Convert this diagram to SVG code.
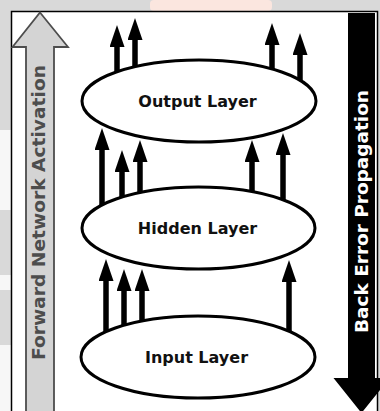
<svg xmlns="http://www.w3.org/2000/svg" width="380" height="411" viewBox="0 0 380 411">
  <defs>
    <style>
      .layer { fill: #ffffff; stroke: #000000; stroke-width: 3; }
      .label { font-family: "DejaVu Sans", Verdana, sans-serif; font-weight: bold; font-size: 16px; fill: #111111; text-anchor: middle; }
      .side { font-family: "DejaVu Sans", Verdana, sans-serif; font-weight: bold; font-size: 18.5px; text-anchor: middle; }
      .conn { stroke: #000000; stroke-width: 5.5; fill: none; marker-end: url(#head); }
      .wm { fill: #f7f7f7; }
    </style>
    <marker id="head" viewBox="0 0 22 15" refX="0" refY="7.5" markerWidth="22" markerHeight="15" markerUnits="userSpaceOnUse" orient="auto">
      <path d="M0,0 L22,7.5 L0,15 Z" fill="#000000"/>
    </marker>
  </defs>

  <!-- background outside frame -->
  <rect x="0" y="0" width="380" height="411" fill="#d9d9d9"/>
  <rect class="wm" x="0" y="130" width="12" height="80"/>
  <rect class="wm" x="0" y="275" width="12" height="15"/>
  <rect class="wm" x="0" y="345" width="12" height="66"/>
  <rect x="150" y="0" width="122" height="11" rx="4" fill="#fbe6df"/>
  <!-- frame -->
  <rect x="11.5" y="11.5" width="366" height="410" fill="#ffffff" stroke="#000000" stroke-width="1.5"/>

  <!-- Forward activation arrow -->
  <g id="forward-arrow">
    <polygon points="40,12.5 68,47 54,47 54,415 26,415 26,47 12.5,47" fill="#d4d4d4" stroke="#4d4d4d" stroke-width="1.8"/>
    <text class="side" fill="#4d4d4d" transform="translate(45,212.5) rotate(-90)" textLength="295" lengthAdjust="spacingAndGlyphs">Forward Network Activation</text>
  </g>

  <!-- Back error propagation arrow -->
  <g id="back-arrow">
    <polygon points="348,13 375,13 375,378 389.5,378 361.5,413 333.5,378 348,378" fill="#000000"/>
    <text class="side" fill="#ffffff" transform="translate(367.5,211.5) rotate(-90)" textLength="243" lengthAdjust="spacingAndGlyphs">Back Error Propagation</text>
  </g>

  <!-- connectors -->
  <g id="connectors">
    <!-- output layer outputs -->
    <path class="conn" d="M117,100 L117,47"/>
    <path class="conn" d="M135,100 L135,40"/>
    <path class="conn" d="M272,100 L272,45"/>
    <path class="conn" d="M300,100 L300,55"/>
    <!-- hidden to output -->
    <path class="conn" d="M102,228 L102,150"/>
    <path class="conn" d="M122,228 L122,172"/>
    <path class="conn" d="M140,228 L140,162"/>
    <path class="conn" d="M252,228 L252,162"/>
    <path class="conn" d="M283,228 L283,155"/>
    <!-- input to hidden -->
    <path class="conn" d="M106,357 L106,281"/>
    <path class="conn" d="M124,357 L124,291"/>
    <path class="conn" d="M142,357 L142,291"/>
    <path class="conn" d="M289,357 L289,282"/>
  </g>

  <!-- nodes -->
  <g id="output-layer">
    <ellipse class="layer" cx="199" cy="101" rx="117" ry="41"/>
    <text class="label" x="197.5" y="107">Output Layer</text>
  </g>
  <g id="hidden-layer">
    <ellipse class="layer" cx="198.5" cy="228" rx="116.5" ry="41"/>
    <text class="label" x="197.5" y="234">Hidden Layer</text>
  </g>
  <g id="input-layer">
    <ellipse class="layer" cx="198" cy="357" rx="117" ry="41"/>
    <text class="label" x="196.5" y="363">Input Layer</text>
  </g>
</svg>
